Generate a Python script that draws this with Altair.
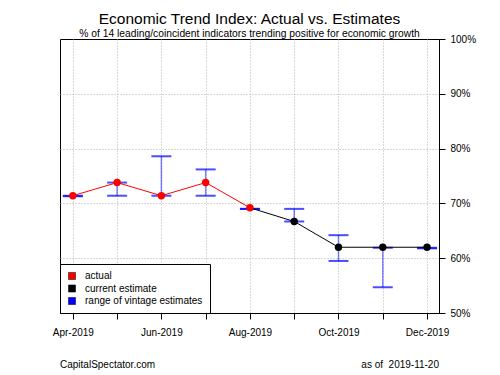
import altair as alt
import pandas as pd

months = ["Apr-2019", "May-2019", "Jun-2019", "Jul-2019", "Aug-2019",
          "Sep-2019", "Oct-2019", "Nov-2019", "Dec-2019"]
actual = [71.4, 73.8, 71.4, 73.8, 69.2, None, None, None, None]
current = [None, None, None, None, 69.2, 66.7, 62.0, 62.0, 62.0]
range_low = [71.3, 71.4, 71.4, 71.4, 69.0, 66.7, 59.5, 54.7, 61.8]
range_high = [71.4, 73.8, 78.6, 76.2, 69.0, 69.0, 64.2, 61.9, 61.9]
series_names = ["actual", "current estimate", "range of vintage estimates"]
series_colors = ["#FF0000", "#000000", "#0000FF"]
y_ticks = [50, 60, 70, 80, 90, 100]

FONT = "Liberation Sans"
W, H = 379, 274

idx = list(range(len(months)))
rng = pd.DataFrame({"i": idx, "lo": range_low, "hi": range_high})
act = pd.DataFrame({"i": idx, "v": actual}).dropna()
cur = pd.DataFrame({"i": idx, "v": current}).dropna()
pts = pd.concat([
    act.assign(series=series_names[0]),
    cur[cur["i"] > act["i"].max()].assign(series=series_names[1]),
])

label_arr = "[" + ",".join("'%s'" % m for m in months) + "]"

xscale = alt.Scale(domain=[-0.29, 8.27], nice=False, zero=False)
yscale = alt.Scale(domain=[50, 100], nice=False, zero=False)

xaxis = alt.Axis(values=idx, title=None, tickSize=6, tickColor="black",
                 domainColor="black", labelColor="black", labelFontSize=10,
                 labelPadding=8, labelFont=FONT,
                 labelExpr="datum.value % 2 == 0 ? " + label_arr + "[datum.value] : ''",
                 grid=True, gridDash=[1, 2], gridColor="#b0b0b0",
                 labelOverlap=False)
yaxis = alt.Axis(values=y_ticks, orient="right", title=None, tickSize=6,
                 tickColor="black", domainColor="black", labelColor="black",
                 labelFontSize=10, labelPadding=5, labelFont=FONT,
                 labelExpr="datum.value + '%'", grid=True, gridDash=[1, 2],
                 gridColor="#b0b0b0",
                 gridOpacity={"condition": {"test": "datum.value == 50 || datum.value == 100", "value": 0}, "value": 1})

x = alt.X("i:Q", scale=xscale, axis=xaxis)

vrule = alt.Chart(rng).mark_rule(color="#0000FF", opacity=0.5, strokeWidth=1.5).encode(
    x=x, y=alt.Y("lo:Q", scale=yscale, axis=yaxis), y2="hi:Q")
cap_lo = alt.Chart(rng).mark_tick(color="#0000FF", orient="horizontal", size=20, thickness=2).encode(
    x="i:Q", y="lo:Q")
cap_hi = alt.Chart(rng).mark_tick(color="#0000FF", orient="horizontal", size=20, thickness=2).encode(
    x="i:Q", y="hi:Q")
line_act = alt.Chart(act).mark_line(color="#FF0000", strokeWidth=1).encode(x="i:Q", y="v:Q")
line_cur = alt.Chart(cur).mark_line(color="#000000", strokeWidth=1).encode(x="i:Q", y="v:Q")
points = alt.Chart(pts).mark_point(filled=True, size=55, opacity=1).encode(
    x="i:Q", y="v:Q",
    color=alt.Color("series:N", scale=alt.Scale(domain=series_names, range=series_colors),
                    legend=alt.Legend(title=None)))

foot_l = alt.Chart(pd.DataFrame({"t": ["CapitalSpectator.com"]})).mark_text(
    align="left", baseline="middle", fontSize=10, font=FONT, color="black").encode(
    x=alt.value(0), y=alt.value(H + 52), text="t:N")
foot_r = alt.Chart(pd.DataFrame({"t": ["as of \u00a02019-11-20"]})).mark_text(
    align="right", baseline="middle", fontSize=10, font=FONT, color="black").encode(
    x=alt.value(W), y=alt.value(H + 52), text="t:N")

chart = alt.layer(vrule, cap_lo, cap_hi, line_act, line_cur, points, foot_l, foot_r).properties(
    width=W, height=H,
    title=alt.TitleParams(
        text="Economic Trend Index: Actual vs. Estimates",
        subtitle="% of 14 leading/coincident indicators trending positive for economic growth",
        fontSize=15.5, subtitleFontSize=10.3, font=FONT, subtitleFont=FONT,
        fontWeight="normal", color="black", subtitleColor="black",
        anchor="middle", offset=-5, subtitlePadding=1),
    autosize=alt.AutoSizeParams(type="none"),
    padding={"left": 52, "top": 31, "right": 53, "bottom": 62},
).configure_view(stroke="black", strokeWidth=1).configure_legend(
    orient="bottom-left", offset=0, padding=7, strokeColor="black", strokeWidth=1,
    fillColor="white", symbolType="square", symbolSize=50, symbolStrokeColor="black",
    symbolStrokeWidth=0.5, labelFontSize=10, labelFont=FONT, labelColor="black",
    rowPadding=2.5, labelOffset=8, cornerRadius=0
)

chart.save("out.html", embed_options={"renderer": "svg", "actions": False})
